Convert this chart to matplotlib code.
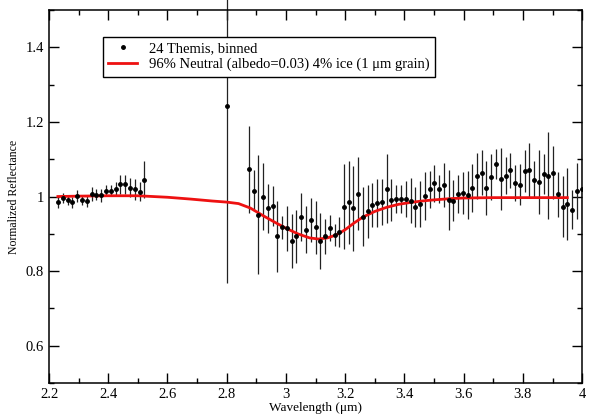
import matplotlib
matplotlib.use("Agg")
import matplotlib.pyplot as plt
from matplotlib.ticker import MultipleLocator

plt.rcParams["font.family"] = ["Liberation Serif", "DejaVu Serif"]

# binned spectrum, short-wavelength part
wl_a = [2.231, 2.247, 2.263, 2.279, 2.296, 2.312, 2.328, 2.344, 2.360, 2.376,
        2.393, 2.409, 2.425, 2.441, 2.457, 2.474, 2.490, 2.506, 2.522]
refl_a = [0.984, 0.996, 0.990, 0.984, 1.002, 0.990, 0.988, 1.007, 1.005, 1.003,
          1.016, 1.016, 1.021, 1.033, 1.033, 1.024, 1.019, 1.013, 1.045]
err_a = [0.016, 0.014, 0.012, 0.015, 0.016, 0.012, 0.017, 0.018, 0.014, 0.017,
         0.014, 0.015, 0.018, 0.025, 0.026, 0.025, 0.028, 0.026, 0.050]

# isolated point at 2.8 um
wl_b = [2.8]
refl_b = [1.242]
err_b_lo = [0.473]
err_b_hi = [0.5]

# binned spectrum, long-wavelength part
wl_c = [2.875, 2.891, 2.907, 2.923, 2.939, 2.955, 2.971, 2.987, 3.003, 3.019,
        3.035, 3.052, 3.068, 3.084, 3.100, 3.116, 3.132, 3.148, 3.164, 3.180,
        3.196, 3.212, 3.228, 3.244, 3.260, 3.276, 3.292, 3.308, 3.324, 3.340,
        3.356, 3.372, 3.389, 3.405, 3.421, 3.437, 3.453, 3.469, 3.485, 3.501,
        3.517, 3.533, 3.549, 3.565, 3.581, 3.597, 3.613, 3.629, 3.645, 3.661,
        3.677, 3.694, 3.710, 3.726, 3.742, 3.758, 3.774, 3.790, 3.806, 3.822,
        3.838, 3.854, 3.870, 3.886, 3.902, 3.918, 3.934, 3.950, 3.966, 3.982,
        3.998]
refl_c = [1.073, 1.015, 0.951, 1.000, 0.968, 0.975, 0.893, 0.917, 0.915, 0.881,
          0.893, 0.945, 0.911, 0.937, 0.917, 0.881, 0.893, 0.916, 0.897, 0.905,
          0.972, 0.984, 0.968, 1.007, 0.946, 0.960, 0.977, 0.982, 0.986, 1.021,
          0.991, 0.993, 0.993, 0.993, 0.989, 0.971, 0.980, 1.002, 1.019, 1.035,
          1.021, 1.031, 0.991, 0.989, 1.007, 1.009, 1.004, 1.023, 1.054, 1.064,
          1.023, 1.052, 1.087, 1.047, 1.056, 1.070, 1.036, 1.032, 1.068, 1.070,
          1.045, 1.038, 1.061, 1.056, 1.064, 1.006, 0.973, 0.980, 0.965, 1.014,
          1.021]
err_c = [0.117, 0.055, 0.160, 0.089, 0.065, 0.053, 0.096, 0.032, 0.060, 0.073,
         0.070, 0.065, 0.063, 0.059, 0.072, 0.075, 0.046, 0.035, 0.030, 0.040,
         0.114, 0.110, 0.115, 0.098, 0.080, 0.070, 0.060, 0.065, 0.062, 0.092,
         0.056, 0.038, 0.038, 0.049, 0.060, 0.054, 0.061, 0.065, 0.049, 0.050,
         0.038, 0.058, 0.080, 0.055, 0.051, 0.057, 0.064, 0.064, 0.062, 0.060,
         0.072, 0.061, 0.041, 0.082, 0.050, 0.047, 0.049, 0.054, 0.056, 0.073,
         0.049, 0.086, 0.054, 0.116, 0.072, 0.060, 0.082, 0.097, 0.053, 0.075,
         0.094]

# model: 96% neutral + 4% ice
wl_m = [2.23, 2.30, 2.40, 2.50, 2.55, 2.60, 2.68, 2.75, 2.80, 2.84, 2.88, 2.92,
        2.96, 3.00, 3.04, 3.08, 3.11, 3.14, 3.17, 3.20, 3.23, 3.26, 3.30, 3.34,
        3.38, 3.42, 3.46, 3.50, 3.55, 3.60, 3.70, 3.80, 3.90, 3.95]
refl_m = [1.000, 1.001, 1.002, 1.002, 1.000, 0.998, 0.993, 0.988, 0.985, 0.981,
          0.969, 0.950, 0.932, 0.915, 0.900, 0.889, 0.886, 0.889, 0.897, 0.911,
          0.929, 0.945, 0.960, 0.971, 0.979, 0.984, 0.988, 0.991, 0.994, 0.996,
          0.997, 0.997, 0.997, 0.997]

fig = plt.figure(figsize=(5.94, 4.17), dpi=100)
ax = fig.add_axes([0.0825, 0.0815, 0.8975, 0.8945])

ebkw = dict(fmt="o", color="black", ms=2.5, ecolor="#222222", elinewidth=0.9, capsize=0)
ax.errorbar(wl_a, refl_a, yerr=err_a, **ebkw)
ax.errorbar(wl_b, refl_b, yerr=[err_b_lo, err_b_hi], clip_on=False, **ebkw)
ax.errorbar(wl_c, refl_c, yerr=err_c, **ebkw)
ax.plot([], [], "o", color="black", ms=2.5, label="24 Themis, binned")
ax.plot(wl_m, refl_m, color="#ee1111", lw=2.0,
        label="96% Neutral (albedo=0.03) 4% ice (1 μm grain)")

ax.set_xlim(2.2, 4.0)
ax.set_ylim(0.5, 1.5)
ax.xaxis.set_minor_locator(MultipleLocator(0.1))
ax.yaxis.set_minor_locator(MultipleLocator(0.1))
ax.set_xticks([2.2, 2.4, 2.6, 2.8, 3.0, 3.2, 3.4, 3.6, 3.8, 4.0])
ax.set_xticklabels(["2.2", "2.4", "2.6", "2.8", "3", "3.2", "3.4", "3.6", "3.8", "4"])
ax.set_yticks([0.6, 0.8, 1.0, 1.2, 1.4])
ax.set_yticklabels(["0.6", "0.8", "1", "1.2", "1.4"])
ax.tick_params(which="both", direction="in", top=True, right=True, labelsize=10.5)
ax.tick_params(which="major", length=7, width=1)
ax.tick_params(which="minor", length=3.5, width=1)
for s in ax.spines.values():
    s.set_linewidth(1.1)

ax.set_xlabel("Wavelength (μm)", fontsize=9.5, labelpad=1)
ax.set_ylabel("Normalized Reflectance", fontsize=8.5, labelpad=4)

leg = ax.legend(loc="upper left", bbox_to_anchor=(0.088, 0.948), fontsize=10.5,
                frameon=True, fancybox=False, edgecolor="black", handlelength=2.0,
                borderpad=0.35, labelspacing=0.2, handletextpad=0.8,
                framealpha=1.0)
leg.get_frame().set_linewidth(1.0)

plt.savefig("out.png", dpi=100)
